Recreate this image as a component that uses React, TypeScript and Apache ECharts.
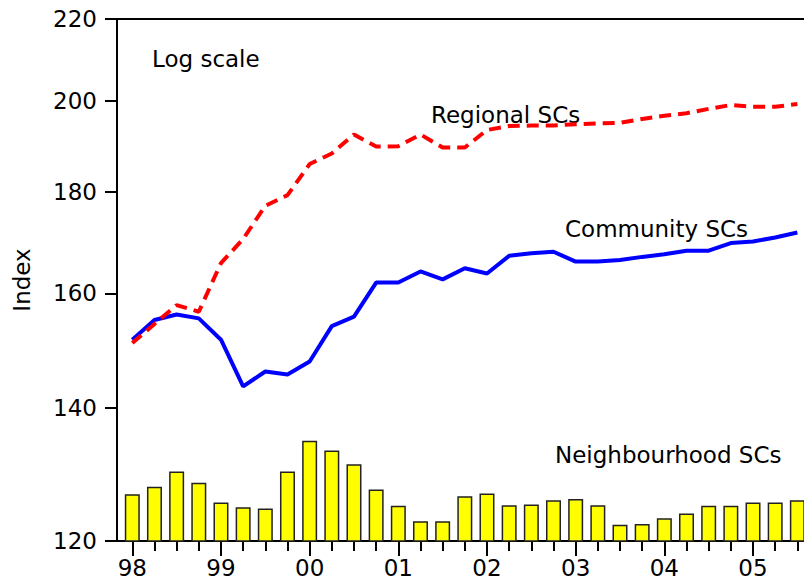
import React, { useEffect, useRef } from 'react';
import * as echarts from 'echarts';

const quarters = [
  '98Q1', '98Q2', '98Q3', '98Q4', '99Q1', '99Q2', '99Q3', '99Q4',
  '00Q1', '00Q2', '00Q3', '00Q4', '01Q1', '01Q2', '01Q3', '01Q4',
  '02Q1', '02Q2', '02Q3', '02Q4', '03Q1', '03Q2', '03Q3', '03Q4',
  '04Q1', '04Q2', '04Q3', '04Q4', '05Q1', '05Q2', '05Q3',
];
const yearLabels = ['98', '99', '00', '01', '02', '03', '04', '05'];
const yTicks = [120, 140, 160, 180, 200, 220];

const regional = [
  151.0, 154.4, 157.8, 156.6, 165.7, 170.4, 177.1, 179.3,
  185.9, 188.2, 192.4, 189.7, 189.8, 192.4, 189.5, 189.5,
  193.4, 194.3, 194.4, 194.4, 194.7, 194.9, 195.0, 195.9,
  196.6, 197.2, 198.2, 199.1, 198.7, 198.7, 199.3,
];
const community = [
  151.6, 155.1, 156.1, 155.4, 151.6, 143.6, 146.1, 145.6,
  147.8, 154.0, 155.7, 162.0, 162.0, 164.1, 162.6, 164.7,
  163.7, 167.1, 167.6, 167.9, 166.0, 166.0, 166.3, 166.9,
  167.4, 168.1, 168.1, 169.6, 169.9, 170.7, 171.7,
];
const neighbourhood = [
  126.7, 127.8, 130.1, 128.4, 125.5, 124.8, 124.6, 130.1,
  134.8, 133.3, 131.2, 127.4, 125.0, 122.8, 122.8, 126.4,
  126.8, 125.1, 125.2, 125.8, 126.0, 125.1, 122.3, 122.4,
  123.2, 123.9, 125.0, 125.0, 125.5, 125.5, 125.8,
];

const FONT = 'DejaVu Sans';

export default function App() {
  const ref = useRef<HTMLDivElement>(null);
  useEffect(() => {
    if (!ref.current) return;
    const chart = echarts.init(ref.current, null, { renderer: 'svg' });
    const xMin = -0.69;
    const xMax = 30.3;
    const quarterIdx = quarters.map((_, i) => i);
    const yearIdx = yearLabels.map((_, i) => i * 4);
    const axisLine = { onZero: false, lineStyle: { color: '#000', width: 2 } };
    const tickStyle = { color: '#000', width: 2 };
    const label = (text: string, x: number, y: number) => ({
      type: 'text',
      x,
      y,
      style: {
        text,
        fill: '#000',
        fontSize: 23,
        fontFamily: FONT,
        align: 'left',
        verticalAlign: 'middle',
        textAlign: 'left',
        textVerticalAlign: 'middle',
      },
    });
    chart.setOption({
      animation: false,
      textStyle: { fontFamily: FONT },
      grid: { left: 117, top: 19, right: 0, bottom: 45, containLabel: false, outerBoundsMode: 'none' },
      xAxis: [
        {
          type: 'value', min: xMin, max: xMax, position: 'bottom',
          axisLine,
          axisTick: { show: true, customValues: quarterIdx, length: 10, lineStyle: tickStyle },
          axisLabel: { show: false },
          splitLine: { show: false },
        },
        {
          type: 'value', min: xMin, max: xMax, position: 'bottom',
          axisLine: { show: false, onZero: false },
          axisTick: { show: true, customValues: yearIdx, length: 15, lineStyle: tickStyle },
          axisLabel: {
            show: true, customValues: yearIdx, margin: 15, fontSize: 23, color: '#000', fontFamily: FONT,
            formatter: (v: number) => yearLabels[Math.round(v / 4)] ?? '',
          },
          splitLine: { show: false },
        },
        {
          type: 'value', min: xMin, max: xMax, position: 'top',
          axisLine,
          axisTick: { show: false },
          axisLabel: { show: false },
          splitLine: { show: false },
        },
      ],
      yAxis: {
        type: 'log', min: 120, max: 220,
        axisLine: { show: true, ...axisLine },
        axisTick: { show: true, customValues: yTicks, length: 12, lineStyle: tickStyle },
        axisLabel: {
          customValues: yTicks, margin: 20, fontSize: 23, color: '#000', fontFamily: FONT,
          formatter: (v: number) => String(Math.round(v)),
        },
        splitLine: { show: false },
        minorTick: { show: false },
        minorSplitLine: { show: false },
      },
      series: [
        {
          name: 'Neighbourhood SCs', type: 'bar', xAxisIndex: 0, barWidth: 15, clip: true,
          data: neighbourhood.map((v, i) => [i, v]),
          itemStyle: { color: '#ffff00', borderColor: '#222', borderWidth: 1.5 },
          z: 2,
        },
        {
          name: 'Community SCs', type: 'line', xAxisIndex: 0, showSymbol: false, symbol: 'none',
          data: community.map((v, i) => [i, v]),
          lineStyle: { color: '#0000ff', width: 4 },
          z: 3,
        },
        {
          name: 'Regional SCs', type: 'line', xAxisIndex: 0, showSymbol: false, symbol: 'none',
          data: regional.map((v, i) => [i, v]),
          lineStyle: { color: '#ff0000', width: 4, type: [12, 7] },
          z: 4,
        },
      ],
      graphic: [
        label('Log scale', 152, 58.5),
        label('Regional SCs', 431, 115),
        label('Community SCs', 565, 229),
        label('Neighbourhood SCs', 555, 455),
        {
          type: 'text', x: 22, y: 280, rotation: Math.PI / 2,
          style: {
            text: 'Index', fill: '#000', fontSize: 23, fontFamily: FONT,
            align: 'center', verticalAlign: 'middle', textAlign: 'center', textVerticalAlign: 'middle',
          },
        },
      ],
    });
    return () => chart.dispose();
  }, []);
  return (
    <div
      ref={ref}
      style={{ position: 'fixed', left: 0, top: 0, width: 804, height: 586, background: '#fff' }}
    />
  );
}
